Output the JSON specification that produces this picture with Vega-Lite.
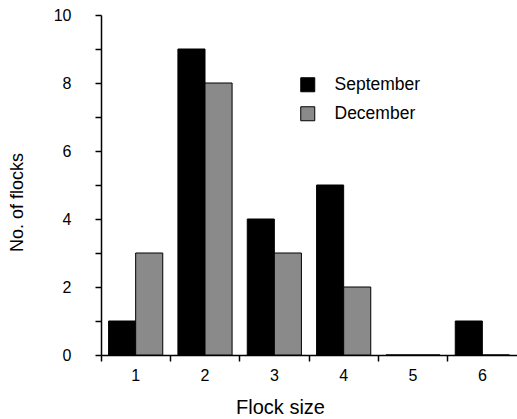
{
  "$schema": "https://vega.github.io/schema/vega-lite/v6.json",
  "width": 416,
  "height": 340,
  "autosize": "none",
  "padding": {"left": 101, "top": 15, "right": 0, "bottom": 64},
  "config": {
    "view": {"stroke": null},
    "font": "Liberation Sans",
    "axis": {
      "grid": false,
      "domainColor": "black",
      "tickColor": "black",
      "labelColor": "black",
      "titleColor": "black",
      "domainWidth": 1.5,
      "tickWidth": 1.5,
      "labelFont": "Liberation Sans",
      "titleFont": "Liberation Sans",
      "titleFontWeight": "normal"
    },
    "legend": {"labelFont": "Liberation Sans", "labelColor": "black"}
  },
  "data": {
    "values": [
      {"size": 1, "month": "September", "count": 1},
      {"size": 1, "month": "December", "count": 3},
      {"size": 2, "month": "September", "count": 9},
      {"size": 2, "month": "December", "count": 8},
      {"size": 3, "month": "September", "count": 4},
      {"size": 3, "month": "December", "count": 3},
      {"size": 4, "month": "September", "count": 5},
      {"size": 4, "month": "December", "count": 2},
      {"size": 5, "month": "September", "count": 0},
      {"size": 5, "month": "December", "count": 0},
      {"size": 6, "month": "September", "count": 1},
      {"size": 6, "month": "December", "count": 0}
    ]
  },
  "mark": {"type": "bar", "stroke": "black", "strokeWidth": 1},
  "encoding": {
    "x": {
      "field": "size",
      "type": "ordinal",
      "scale": {"paddingInner": 0, "paddingOuter": 0},
      "axis": {
        "title": "Flock size",
        "labelAngle": 0,
        "bandPosition": 0,
        "tickSize": 6,
        "labelFontSize": 16,
        "labelPadding": 6,
        "titleFontSize": 20,
        "titleX": 179,
        "titleY": 58,
        "titleBaseline": "alphabetic"
      }
    },
    "xOffset": {
      "field": "month",
      "sort": ["September", "December"],
      "scale": {"paddingInner": 0, "paddingOuter": 0.28}
    },
    "y": {
      "field": "count",
      "type": "quantitative",
      "scale": {"domain": [0, 10], "nice": false},
      "axis": {
        "title": "No. of flocks",
        "values": [0, 1, 2, 3, 4, 5, 6, 7, 8, 9, 10],
        "labelExpr": "datum.value % 2 === 0 ? datum.label : ''",
        "tickSize": 6,
        "labelPadding": 24,
        "labelFontSize": 16,
        "titleFontSize": 18,
        "titleX": -84,
        "titleY": 187,
        "titleBaseline": "middle",
        "titleAlign": "center"
      }
    },
    "color": {
      "field": "month",
      "type": "nominal",
      "scale": {"domain": ["September", "December"], "range": ["black", "#8a8a8a"]},
      "legend": {
        "title": null,
        "orient": "none",
        "legendX": 198,
        "legendY": 61,
        "padding": 0,
        "symbolType": "square",
        "symbolSize": 196,
        "symbolStrokeColor": "black",
        "symbolStrokeWidth": 1,
        "symbolOpacity": 1,
        "labelFontSize": 17.5,
        "labelOffset": 18,
        "rowPadding": 10
      }
    }
  }
}
